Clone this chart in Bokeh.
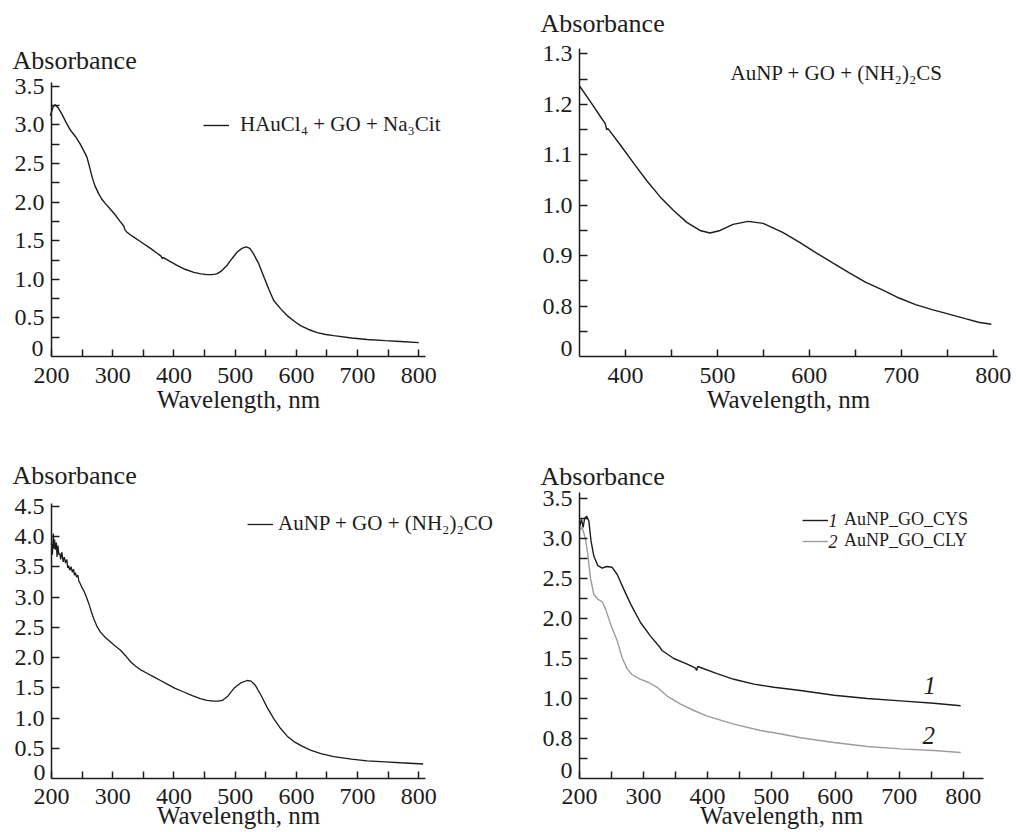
from bokeh.plotting import figure
from bokeh.models import Range1d, FixedTicker, Label, Legend, LegendItem
from bokeh.layouts import column, row
from bokeh.embed import file_html
from bokeh.resources import INLINE

FONT = "Liberation Serif"
INK = "#1c1c1c"
GREY = "#9c9c9c"

# ---------------- data ----------------
# Panel 1: HAuCl4 + GO + Na3Cit
wl_1 = [198, 203, 206, 211, 217, 224, 231, 239, 247, 253, 258, 262, 266.5, 271, 277, 282, 288, 296,
        304.5, 312, 318, 320, 322, 328, 334, 345, 361.7, 372, 379, 381, 383, 392, 405, 418, 432.5,
        444, 454, 462, 470, 478, 486.6, 495, 503, 511, 518, 524, 530, 538, 547, 555, 563, 574, 585,
        596, 606.7, 620, 634, 648, 661, 690, 715.7, 745, 770, 800]
ab_1 = [3.12, 3.24, 3.26, 3.22, 3.14, 3.03, 2.93, 2.85, 2.75, 2.66, 2.58, 2.46, 2.32, 2.21, 2.11, 2.04,
        1.98, 1.91, 1.83, 1.75, 1.69, 1.64, 1.62, 1.58, 1.55, 1.49, 1.40, 1.34, 1.30, 1.27, 1.28, 1.24,
        1.18, 1.13, 1.09, 1.07, 1.06, 1.06, 1.07, 1.11, 1.18, 1.27, 1.35, 1.40, 1.42, 1.40, 1.33, 1.21,
        1.03, 0.87, 0.725, 0.62, 0.53, 0.46, 0.40, 0.35, 0.31, 0.285, 0.27, 0.24, 0.22, 0.205, 0.195, 0.18]

# Panel 2: AuNP + GO + (NH2)2CS
wl_2 = [350.2, 362, 373, 378, 379.5, 381, 394.6, 409, 423.4, 438, 452, 466.7, 481, 492, 503, 517,
        533.5, 549.7, 571, 589, 607, 625, 643.5, 661.5, 679.5, 697.6, 715.6, 733.6, 751.7, 769.7,
        784, 798]
ab_2 = [1.236, 1.205, 1.175, 1.162, 1.150, 1.152, 1.119, 1.083, 1.048, 1.016, 0.990, 0.966, 0.950,
        0.945, 0.950, 0.962, 0.968, 0.964, 0.946, 0.927, 0.906, 0.886, 0.866, 0.847, 0.832, 0.816,
        0.803, 0.793, 0.784, 0.775, 0.768, 0.764]

# Panel 3: AuNP + GO + (NH2)2CO
wl_3 = [200, 201.5, 203, 204, 205, 206.5, 208, 209, 210.5, 212, 213.6, 215, 217, 219, 221, 223, 225,
        226.5, 228, 230, 232, 234, 236, 237.5, 239, 241, 243, 244.6, 247, 250, 253, 257, 261, 265,
        269, 274, 280, 288, 296, 304, 312.7, 321, 329, 337, 345, 356, 367, 378, 389, 402, 416, 430,
        443, 454, 465, 472, 479, 488, 498, 509, 519.5, 526, 533, 542, 552, 563, 574, 585, 596, 610,
        623, 640, 661, 690, 715.5, 745, 770, 807]
ab_3 = [3.88, 3.70, 4.05, 3.80, 3.95, 3.78, 3.90, 3.66, 3.85, 3.70, 3.72, 3.62, 3.74, 3.58, 3.66,
        3.56, 3.62, 3.48, 3.52, 3.44, 3.50, 3.41, 3.46, 3.36, 3.40, 3.33, 3.36, 3.27, 3.22, 3.15, 3.10,
        3.00, 2.89, 2.76, 2.64, 2.52, 2.42, 2.33, 2.26, 2.19, 2.12, 2.03, 1.93, 1.86, 1.80, 1.74, 1.68,
        1.62, 1.56, 1.49, 1.43, 1.37, 1.32, 1.29, 1.28, 1.28, 1.29, 1.36, 1.49, 1.58, 1.62, 1.61, 1.54,
        1.38, 1.18, 0.99, 0.83, 0.70, 0.61, 0.53, 0.47, 0.41, 0.36, 0.32, 0.29, 0.275, 0.26, 0.24]

# Panel 4: 1 AuNP_GO_CYS, 2 AuNP_GO_CLY
wl_4a = [200, 203, 205.7, 208, 211, 214.6, 218, 222.4, 228.7, 235.5, 242, 251, 259, 269, 280, 295.4,
         311, 325.7, 329, 347.5, 368.4, 381.4, 383, 385, 415, 441.4, 472.7, 504, 545.7, 598, 650,
         702, 754, 796]
ab_4a = [3.14, 3.24, 3.14, 3.25, 3.28, 3.22, 2.97, 2.78, 2.66, 2.63, 2.65, 2.64, 2.55, 2.37, 2.18,
         1.95, 1.78, 1.64, 1.60, 1.50, 1.43, 1.38, 1.35, 1.40, 1.31, 1.24, 1.18, 1.14, 1.10, 1.04,
         1.00, 0.97, 0.94, 0.91]
wl_4b = [200, 204, 209, 213, 217, 222.4, 228.7, 235.5, 240.7, 248.5, 259, 266.7, 274.6, 282, 295.4,
         308.4, 321.5, 337, 358, 378.8, 399.7, 441.4, 483, 519.6, 545.7, 598, 650, 702, 754, 796]
ab_4b = [3.10, 3.14, 3.01, 2.80, 2.51, 2.30, 2.24, 2.21, 2.12, 1.93, 1.72, 1.51, 1.37, 1.30, 1.24,
         1.20, 1.14, 1.03, 0.93, 0.85, 0.78, 0.68, 0.60, 0.55, 0.51, 0.45, 0.40, 0.37, 0.35, 0.325]

# tick positions / labels
x_ticks_full = list(range(200, 801, 50))
x_ticks_2 = list(range(400, 801, 50))
y_ticks_1 = [round(0.25 * k, 2) for k in range(1, 15)]
y_ticks_2 = [round(0.7 + 0.05 * k, 2) for k in range(1, 13)]
y_ticks_3 = [round(0.5 * k, 1) for k in range(1, 10)]
y_ticks_4 = [round(0.25 * k, 2) for k in range(1, 15)]


def x_labels(ticks):
    return {t: (str(t) if t % 100 == 0 else "") for t in ticks}


def y_labels(ticks, step):
    out = {}
    for t in ticks:
        k = t / step
        out[t] = f"{t:.1f}" if abs(k - round(k)) < 1e-6 else ""
    return out


def make_fig(w, h, xmap, ymap, xbounds, ybounds, xt, xlab, yt, ylab, tick_standoff, xlab_standoff):
    # xmap = (pixel from left, value, px per unit); ymap = (pixel from top, value, px per unit)
    xp, xv, xs = xmap
    yp, yv, ys = ymap
    xr = Range1d(xv - xp / xs, xv + (w - xp) / xs)
    yr = Range1d(yv - (h - yp) / ys, yv + yp / ys)
    p = figure(width=w, height=h, x_range=xr, y_range=yr,
               output_backend="svg", toolbar_location=None, min_border=0)
    p.title.visible = False
    p.grid.visible = False
    p.outline_line_color = None
    p.background_fill_color = "white"
    p.border_fill_color = "white"
    for ax in (p.xaxis[0], p.yaxis[0]):
        ax.axis_line_color = INK
        ax.axis_line_width = 1.5
        ax.major_tick_line_color = INK
        ax.major_tick_line_width = 1.5
        ax.major_tick_out = 0
        ax.minor_tick_line_color = None
        ax.major_label_text_font = FONT
        ax.major_label_text_font_size = "24px"
        ax.major_label_text_color = INK
    xa, ya = p.xaxis[0], p.yaxis[0]
    xa.fixed_location = ybounds[0]
    xa.bounds = xbounds
    xa.ticker = FixedTicker(ticks=xt)
    xa.major_label_overrides = xlab
    xa.major_tick_in = 7
    xa.major_label_standoff = tick_standoff
    xa.axis_label = "Wavelength, nm"
    xa.axis_label_text_font = FONT
    xa.axis_label_text_font_style = "normal"
    xa.axis_label_text_font_size = "25px"
    xa.axis_label_text_color = INK
    xa.axis_label_standoff = xlab_standoff
    ya.fixed_location = xbounds[0]
    ya.bounds = ybounds
    ya.ticker = FixedTicker(ticks=yt)
    ya.major_label_overrides = ylab
    ya.major_tick_in = 8
    ya.major_label_standoff = 7
    return p


def add_text(p, x, y, text, size="25px", style="normal", align="left"):
    # x: pixels from the figure's left edge; y: pixels from its top edge to the text's middle
    p.add_layout(Label(x=x, y=p.height - y, x_units="screen", y_units="screen", text=text,
                       text_font=FONT, text_font_size=size, text_font_style=style,
                       text_color=INK, text_align=align, text_baseline="middle"))


def make_legend(p, label, renderer, x, y_bottom, standoff, size="21px"):
    leg = Legend(items=[LegendItem(label=label, renderers=[renderer])],
                 location=(x, p.height - y_bottom))
    leg.border_line_alpha = 0
    leg.background_fill_alpha = 0
    leg.padding = 0
    leg.margin = 0
    leg.spacing = 0
    leg.glyph_width = 26
    leg.glyph_height = 14
    leg.label_height = 14
    leg.label_standoff = standoff
    leg.label_text_font = FONT
    leg.label_text_font_size = size
    leg.label_text_color = INK
    p.add_layout(leg)
    return leg


# ---------------- panel 1 ----------------
p1 = make_fig(500, 415, (51, 200, 0.6122), (356, 0, 77.2), (200, 811), (0, 3.55),
              x_ticks_full, x_labels(x_ticks_full), y_ticks_1, y_labels(y_ticks_1, 0.5), 11, 0)
r1 = p1.line(wl_1, ab_1, line_color=INK, line_width=1.4)
make_legend(p1, "HAuCl₄ + GO + Na₃Cit", r1, 203, 137, 11)
add_text(p1, 12, 60, "Absorbance", size="26px")
add_text(p1, 43, 348, "0", size="24px", align="right")

# ---------------- panel 2 ----------------
p2 = make_fig(516, 415, (125, 400, 0.9192), (356, 0.7, 504.2), (350, 805), (0.7, 1.31),
              x_ticks_2, x_labels(x_ticks_2), y_ticks_2, y_labels(y_ticks_2, 0.1), 11, 0)
p2.line(wl_2, ab_2, line_color=INK, line_width=1.4)
add_text(p2, 230, 72, "AuNP + GO + (NH₂)₂CS", size="21px")
add_text(p2, 40, 23, "Absorbance", size="26px")
add_text(p2, 72, 348, "0", size="24px", align="right")

# ---------------- panel 3 ----------------
p3 = make_fig(530, 417, (51, 200, 0.6122), (363, 0, 60.5), (200, 811), (0, 4.55),
              x_ticks_full, x_labels(x_ticks_full), y_ticks_3, y_labels(y_ticks_3, 0.5), 10, -5)
r3 = p3.line(wl_3, ab_3, line_color=INK, line_width=1.3)
make_legend(p3, "AuNP + GO + (NH₂)₂CO", r3, 247, 121, 5)
add_text(p3, 12, 60, "Absorbance", size="26px")
add_text(p3, 45, 357, "0", size="24px", align="right")

# ---------------- panel 4 ----------------
y4_labels = y_labels(y_ticks_4, 0.5)
y4_labels[0.5] = "0.8"
p4 = make_fig(486, 417, (49, 200, 0.6395), (363, 0, 80.0), (200, 832), (0, 3.58),
              x_ticks_full, x_labels(x_ticks_full), y_ticks_4, y4_labels, 10, -5)
r4a = p4.line(wl_4a, ab_4a, line_color=INK, line_width=1.4)
r4b = p4.line(wl_4b, ab_4b, line_color=GREY, line_width=1.4)
make_legend(p4, "AuNP_GO_CYS", r4a, 272, 115, 16, size="18px")
make_legend(p4, "AuNP_GO_CLY", r4b, 272, 136, 16, size="18px")
add_text(p4, 298, 104.5, "1", size="18px", style="italic")
add_text(p4, 298, 125.5, "2", size="18px", style="italic")
add_text(p4, 393, 270, "1", size="25px", style="italic")
add_text(p4, 392, 320, "2", size="25px", style="italic")
add_text(p4, 10, 61, "Absorbance", size="26px")
add_text(p4, 42, 355, "0", size="24px", align="right")

layout = column(row(p1, p2), row(p3, p4))
open("out.html", "w").write(file_html(layout, INLINE))
